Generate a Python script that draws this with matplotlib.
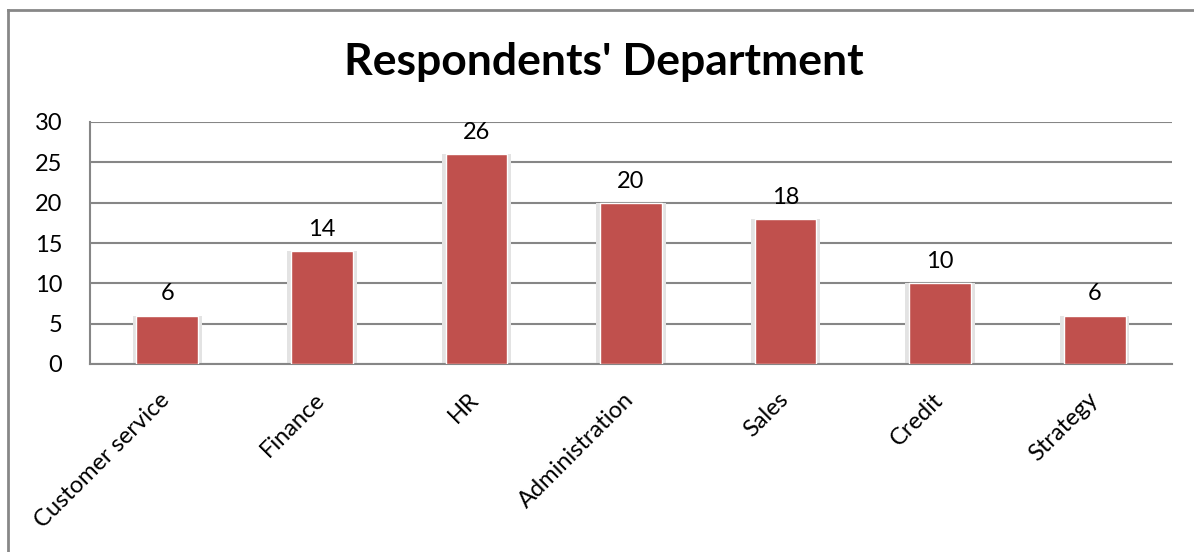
import matplotlib
matplotlib.use('Agg')
import matplotlib.pyplot as plt
from matplotlib.lines import Line2D
from matplotlib.transforms import ScaledTranslation
import numpy as np

plt.rcParams['font.family'] = ['Lato', 'DejaVu Sans']

# 数据
departments = ['Customer service', 'Finance', 'HR', 'Administration', 'Sales', 'Credit', 'Strategy']
counts = [6, 14, 26, 20, 18, 10, 6]
y_ticks = [0, 5, 10, 15, 20, 25, 30]

fig = plt.figure(figsize=(11.94, 5.52), dpi=100)
ax = fig.add_axes([90 / 1194, 1 - 364 / 552, (1172 - 90) / 1194, (364 - 122) / 552])

x = np.arange(len(departments))
# 柱子后面的浅灰阴影
ax.bar(x, counts, width=0.45, color='#e3e3e3', zorder=2)
bars = ax.bar(x, counts, width=0.4, color='#c0504d', edgecolor='white', linewidth=1, zorder=3)

for bar, val in zip(bars, counts):
    ax.annotate(f'{val}', xy=(bar.get_x() + bar.get_width() / 2, bar.get_height()),
                xytext=(0, 8), textcoords='offset points', ha='center', va='bottom', fontsize=17)

ax.set_xlim(-0.5, len(departments) - 0.5)
ax.set_ylim(0, 30)
ax.set_yticks(y_ticks)
ax.tick_params(axis='y', length=0, labelsize=17, pad=20)
ax.set_xticks(x)
ax.set_xticklabels(departments, rotation=45, ha='right', rotation_mode='anchor', fontsize=17)
ax.tick_params(axis='x', length=0, pad=18)
off = ScaledTranslation(-8 / 100, 0, fig.dpi_scale_trans)
for lbl in ax.get_xticklabels():
    lbl.set_transform(lbl.get_transform() + off)
ax.yaxis.grid(True, color='#868686', linewidth=1.5, zorder=0)
ax.set_axisbelow(True)
for s in ['top', 'right']:
    ax.spines[s].set_visible(False)
for s in ['left', 'bottom']:
    ax.spines[s].set_color('#868686')
    ax.spines[s].set_linewidth(1.5)

fig.text(604 / 1194, 1 - 62 / 552, "Respondents' Department", ha='center', va='center',
         fontsize=32, fontweight='bold')

# 图框
fig.add_artist(Line2D([8 / 1194, 1], [1 - 10 / 552, 1 - 10 / 552], color='#878787', linewidth=2, transform=fig.transFigure))
fig.add_artist(Line2D([8 / 1194, 8 / 1194], [0, 1 - 10 / 552], color='#878787', linewidth=2, transform=fig.transFigure))

plt.savefig('out.png', dpi=100)
plt.close()
